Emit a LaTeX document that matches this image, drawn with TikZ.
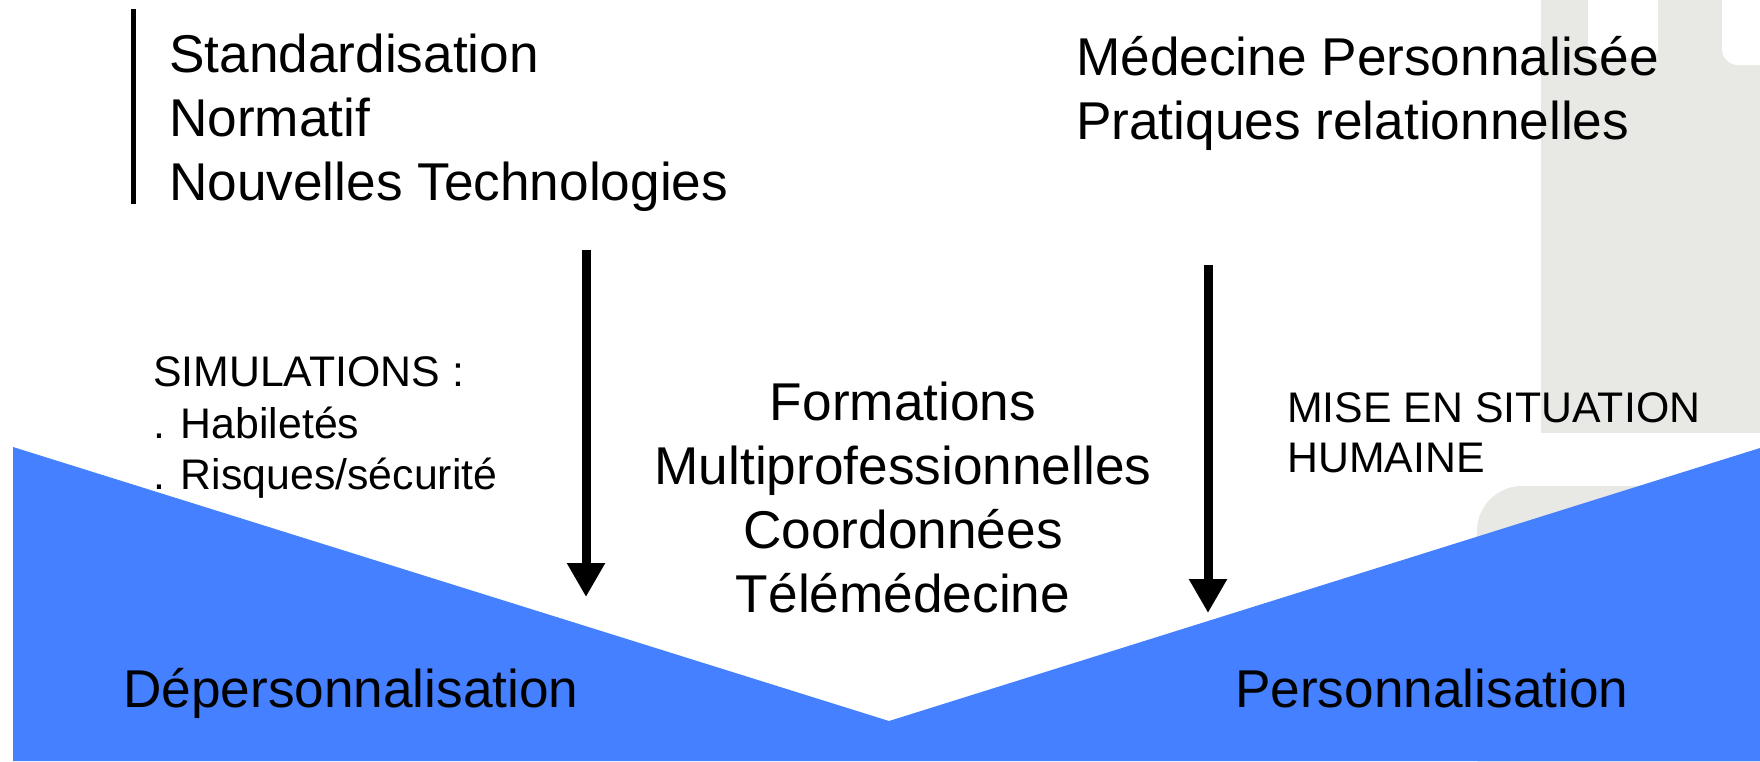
\documentclass[tikz,border=0pt]{standalone}
\usepackage{fontspec}
\setmainfont{Liberation Sans}
\usetikzlibrary{arrows.meta}
\definecolor{vblue}{RGB}{68,128,255}
\definecolor{bggrey}{RGB}{232,232,228}
\begin{document}
\begin{tikzpicture}[x=1pt,y=-1pt,
  big/.style={font=\fontsize{53.2}{64}\selectfont, inner sep=0pt, anchor=base west},
  small/.style={font=\fontsize{42.8}{51}\selectfont, inner sep=0pt, anchor=base west},
  mid/.style={font=\fontsize{53.2}{64}\selectfont, inner sep=0pt, anchor=base},
  flow/.style={line width=9pt, -{Triangle[width=36pt,length=34pt]}}]
\useasboundingbox (0,0) rectangle (1760,761);
\fill[white] (0,0) rectangle (1760,761);
% grey background decoration
\fill[bggrey] (1541,0) rectangle (1760,433);
\fill[white, rounded corners=8pt] (1588,-30) rectangle (1658,58);
\fill[white, rounded corners=16pt] (1722,-30) rectangle (1800,65);
\fill[bggrey, rounded corners=45pt] (1477,486) rectangle (1800,800);
% blue V band
\fill[vblue] (13,447) -- (889,721) -- (1760,448) -- (1760,761) -- (13,761) -- cycle;
% left bar
\draw[line width=5pt] (133.5,9) -- (133.5,204);
% top left block
\node[big] (std) at (169,72) {Standardisation};
\node[big] (norm) at (169,136) {Normatif};
\node[big] (tech) at (169,200) {Nouvelles Technologies};
% top right block
\node[big] (med) at (1076,75) {Médecine Personnalisée};
\node[big] (prat) at (1076,139) {Pratiques relationnelles};
% simulations
\node[small] (sim) at (153,386) {SIMULATIONS :};
\node[small] (hab) at (153,438) {. Habiletés};
\node[small] (risq) at (153,489) {. Risques/sécurité};
% center block
\node[mid] (form) at (903,420) {Formations};
\node[mid] (multi) at (903,484) {Multiprofessionnelles};
\node[mid] (coord) at (903,548) {Coordonnées};
\node[mid] (tele) at (903,612) {Télémédecine};
% right middle
\node[small] (mise) at (1287,422) {MISE EN SITUATION};
\node[small] (hum) at (1287,472) {HUMAINE};
% bottom labels
\node[big] (dep) at (123,707) {Dépersonnalisation};
\node[big] (pers) at (1235,707) {Personnalisation};
% arrows
\coordinate (a1s) at (586,250);
\coordinate (a1e) at (586,597);
\coordinate (a2s) at (1208,265);
\coordinate (a2e) at (1208,613);
\draw[flow] (a1s) -- (a1e);
\draw[flow] (a2s) -- (a2e);
\end{tikzpicture}
\end{document}
